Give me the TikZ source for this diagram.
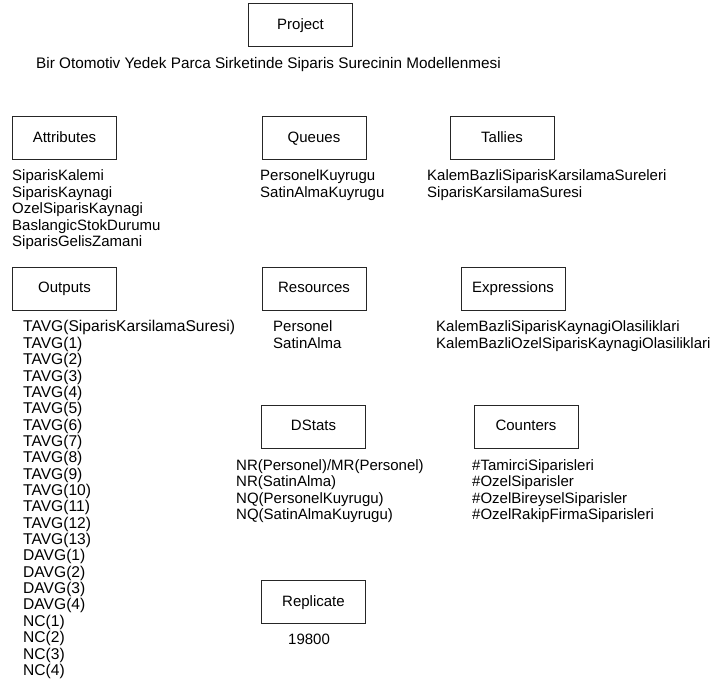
\documentclass[tikz,border=0pt]{standalone}
\usepackage{fontspec}
\setmainfont{Liberation Sans}
\usetikzlibrary{positioning}

\begin{document}
\begin{tikzpicture}[x=1pt,y=-1pt,
    blok/.style={draw=black!85,line width=1pt,minimum width=104pt,minimum height=43pt,inner sep=0pt,text height=10.8pt,text depth=3.2pt,font=\fontsize{15}{17}\selectfont},
    satir/.style={anchor=base west,inner sep=0pt,font=\fontsize{15}{17}\selectfont}]
    \useasboundingbox (0,0) rectangle (712,684);
    % title
    \node[blok] (project) at (300.5,25.5) {Project};
    \node[satir,font=\fontsize{15.3}{17}\selectfont] (title) at (36,69) {Bir Otomotiv Yedek Parca Sirketinde Siparis Surecinin Modellenmesi};
    % the boxes
    \node[blok] (attributes) at (64.5,138.5) {Attributes};
    \node[blok] (queues) at (314,138.5) {Queues};
    \node[blok] (tallies) at (502,138.5) {Tallies};
    \node[blok] (outputs) at (64.5,289) {Outputs};
    \node[blok] (resources) at (314,289) {Resources};
    \node[blok] (expressions) at (513,289) {Expressions};
    \node[blok] (dstats) at (313.5,427) {DStats};
    \node[blok] (counters) at (526,427) {Counters};
    \node[blok] (replicate) at (313.5,602.3) {Replicate};
    % edit here for the lists
    \foreach \t [count=\i] in {SiparisKalemi,SiparisKaynagi,OzelSiparisKaynagi,BaslangicStokDurumu,SiparisGelisZamani}
        \node[satir] (attr-\i) at (12,{180.5+16.6*(\i-1)}) {\t};
    \foreach \t [count=\i] in {PersonelKuyrugu,SatinAlmaKuyrugu}
        \node[satir] (queue-\i) at (260,{180.5+16.6*(\i-1)}) {\t};
    \foreach \t [count=\i] in {KalemBazliSiparisKarsilamaSureleri,SiparisKarsilamaSuresi}
        \node[satir] (tally-\i) at (427,{180.5+16.6*(\i-1)}) {\t};
    \foreach \t [count=\i] in {TAVG(SiparisKarsilamaSuresi),TAVG(1),TAVG(2),TAVG(3),TAVG(4),TAVG(5),TAVG(6),TAVG(7),TAVG(8),TAVG(9),TAVG(10),TAVG(11),TAVG(12),TAVG(13),DAVG(1),DAVG(2),DAVG(3),DAVG(4),NC(1),NC(2),NC(3),NC(4)}
        \node[satir,font=\fontsize{15.6}{17}\selectfont] (out-\i) at (23,{332+16.35*(\i-1)}) {\t};
    \foreach \t [count=\i] in {Personel,SatinAlma}
        \node[satir] (res-\i) at (273,{332+16.5*(\i-1)}) {\t};
    \foreach \t [count=\i] in {KalemBazliSiparisKaynagiOlasiliklari,KalemBazliOzelSiparisKaynagiOlasiliklari}
        \node[satir] (expr-\i) at (436,{332+16.5*(\i-1)}) {\t};
    \foreach \t [count=\i] in {NR(Personel)/MR(Personel),NR(SatinAlma),NQ(PersonelKuyrugu),NQ(SatinAlmaKuyrugu)}
        \node[satir] (dstat-\i) at (236,{470.4+16.4*(\i-1)}) {\t};
    \foreach \t [count=\i] in {\#TamirciSiparisleri,\#OzelSiparisler,\#OzelBireyselSiparisler,\#OzelRakipFirmaSiparisleri}
        \node[satir] (count-\i) at (472,{470.4+16.4*(\i-1)}) {\t};
    \node[satir] (rep-1) at (288,644.7) {19800};
\end{tikzpicture}
\end{document}
